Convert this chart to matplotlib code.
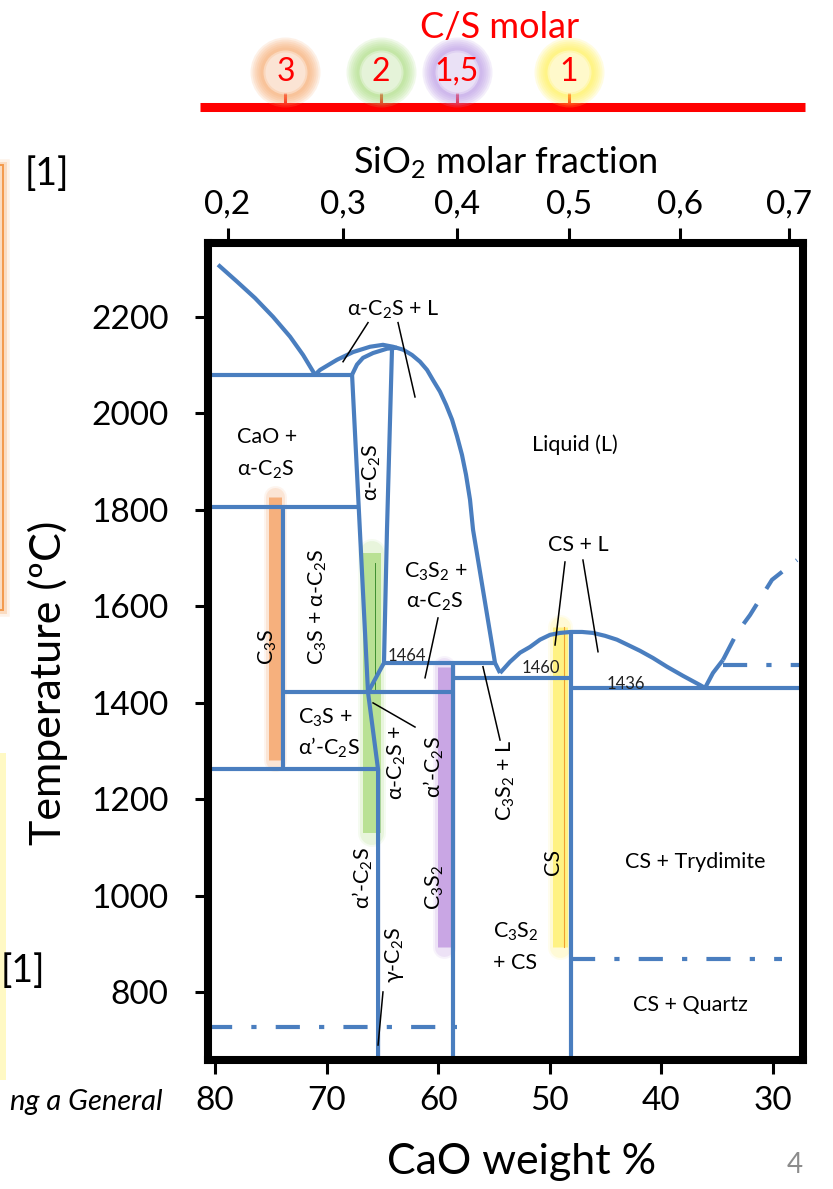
import numpy as np
import matplotlib
matplotlib.use("Agg")
import matplotlib.pyplot as plt
from matplotlib.patches import Rectangle

plt.rcParams['font.family'] = ['Lato', 'DejaVu Sans']
plt.rcParams['mathtext.fontset'] = 'custom'
plt.rcParams['mathtext.rm'] = 'Lato'
plt.rcParams['mathtext.it'] = 'Lato:italic'
plt.rcParams['mathtext.bf'] = 'Lato:bold'

BLUE = '#4a7ebf'
M_CAO = 56.08
M_SIO2 = 60.08

# axis ranges: CaO weight % and temperature (C)
x_range = (80.63, 27.31)
t_range = (660, 2353)
x_ticks = [80, 70, 60, 50, 40, 30]
t_ticks = [800, 1000, 1200, 1400, 1600, 1800, 2000, 2200]
sio2_ticks = [0.2, 0.3, 0.4, 0.5, 0.6, 0.7]
sio2_labels = ['0,2', '0,3', '0,4', '0,5', '0,6', '0,7']
cs_ratio = [3, 2, 1.5, 1]
cs_labels = ['3', '2', '1,5', '1']
cs_colors = ['#f7a566', '#a6dc7a', '#b996e6', '#fff04a']

# liquidus curves
cao_liq_w = [79.73, 78.03, 76.42, 74.8, 73.28, 72.11, 71.04]
cao_liq_t = [2308, 2273, 2239, 2200, 2159, 2121, 2080]
c2s_liq_w = [71.04, 70.59, 69.07, 67.63, 66.11, 64.95, 64.05, 63.15, 62.35, 61.63, 61.0,
             60.47, 59.84, 59.3, 58.76, 58.32, 57.87, 57.51, 57.15, 56.88, 54.91, 54.46]
c2s_liq_t = [2080, 2090, 2111, 2127, 2138, 2142, 2138, 2132, 2121, 2107, 2090,
             2069, 2045, 2018, 1987, 1953, 1914, 1873, 1821, 1759, 1483, 1462]
c2s_sol_w = [67.72, 67.28, 66.74, 65.84, 64.59, 63.69]
c2s_sol_t = [2080, 2101, 2115, 2125, 2134, 2136]
cs_liq_w = [54.46, 53.57, 52.67, 51.77, 50.88, 49.98, 49.09, 48.1, 47.11, 46.13, 45.05,
            43.98, 42.99, 41.92, 40.75, 39.5, 38.06, 36.54, 36.09]
cs_liq_t = [1462, 1485, 1504, 1516, 1531, 1541, 1545, 1547, 1547, 1545, 1539,
            1531, 1520, 1508, 1493, 1475, 1456, 1437, 1431]
trid_liq_w = [36.09, 35.38, 34.48]
trid_liq_t = [1431, 1462, 1489]
trid_dash_w = [34.48, 33.23, 32.06, 30.09, 27.85]
trid_dash_t = [1489, 1545, 1582, 1655, 1696]

# alpha-C2S field boundaries
a_left_w = [67.72, 66.29]
a_left_t = [2080, 1422]
a_right_w = [64.14, 64.59, 64.86, 66.29]
a_right_t = [2135, 1759, 1483, 1422]
c2s_low_w = [66.29, 65.39, 65.39]
c2s_low_t = [1422, 1262, t_range[0]]

# isotherms: temperature, from-x, to-x
iso_t = [2080, 1806, 1422, 1262, 1422, 1483, 1452, 1431]
iso_w0 = [x_range[0], x_range[0], 73.91, x_range[0], 66.29, 64.86, 58.67, 48.1]
iso_w1 = [67.72, 67.13, 66.29, 65.39, 58.67, 54.91, 48.1, x_range[1]]

# compound lines: x, top temperature, bottom
comp_w = [73.91, 58.67, 48.1]
comp_top = [1806, 1483, 1547]
comp_bot = [1262, t_range[0], t_range[0]]

# dash-dot transitions
dd_t = [729, 870, 1479]
dd_w0 = [x_range[0], 48.1, 34.48]
dd_w1 = [58.32, 29.19, x_range[1]]

# highlight bands: x, top, bottom, colour, width(px)
band_w = [74.62, 65.93, 59.52, 49.13]
band_top = [1827, 1711, 1475, 1558]
band_bot = [1282, 1131, 894, 894]
band_col = ['#f6ab74', '#b4df8c', '#c5a0e2', '#fff27a']
band_px = [13, 18, 13, 15]

# leader lines
lead_w0 = [66.29, 63.6, 60.02, 65.84, 55.99, 48.64, 47.03, 64.95]
lead_t0 = [2188, 2188, 1576, 1400, 1475, 1692, 1696, 801]
lead_w1 = [68.53, 62.08, 61.18, 62.08, 54.46, 49.53, 45.68, 65.39]
lead_t1 = [2107, 2034, 1452, 1350, 1323, 1520, 1506, 691]

C2 = r'C$_\mathregular{2}$S'
C3S = r'C$_\mathregular{3}$S'
C3S2 = r'C$_\mathregular{3}$S$_\mathregular{2}$'

# region labels: x, T, text, rotation, ha
lab_w = [64.05, 78.03, 78.03, 65.93, 47.74, 75.25, 70.77, 72.56, 72.56, 60.2, 60.3,
         63.69, 60.38, 66.74, 63.96, 60.29, 53.92, 47.47, 49.71, 37.0, 55.09, 55.09, 37.44]
lab_t = [2214, 1951, 1883, 1877, 1935, 1516, 1599, 1369, 1307, 1671, 1609,
         1276, 1267, 1037, 878, 1019, 1240, 1727, 1070, 1070, 925, 861, 774]
lab_s = ['α-' + C2 + ' + L', 'CaO +', 'α-' + C2, 'α-' + C2, 'Liquid (L)', C3S,
         C3S + ' + α-' + C2, C3S + ' +', 'α’-' + C2, C3S2 + ' +', 'α-' + C2,
         'α-' + C2 + ' +', 'α’-' + C2, 'α’-' + C2, 'γ-' + C2, C3S2, C3S2 + ' + L',
         'CS + L', 'CS', 'CS + Trydimite', C3S2, '+ CS', 'CS + Quartz']
lab_rot = [0, 0, 0, 90, 0, 90, 90, 0, 0, 0, 0, 90, 90, 90, 90, 90, 90, 0, 90, 0, 0, 0, 0]
lab_ha = ['center', 'left', 'left', 'center', 'center', 'center', 'center', 'left', 'left',
          'center', 'center', 'center', 'center', 'center', 'center', 'center', 'center',
          'center', 'center', 'center', 'left', 'left', 'center']

# small temperature notes
note_w = [62.8, 50.79, 43.17]
note_t = [1497, 1473, 1439]
note_s = ['1464', '1460', '1436']


def wt_to_xs(w):
    w = np.asarray(w, dtype=float)
    with np.errstate(divide='ignore', invalid='ignore'):
        ns = (100 - w) / M_SIO2
        return ns / (ns + w / M_CAO)


def xs_to_wt(x):
    x = np.asarray(x, dtype=float)
    with np.errstate(divide='ignore', invalid='ignore'):
        return 100 * (1 - x) * M_CAO / ((1 - x) * M_CAO + x * M_SIO2)


fig = plt.figure(figsize=(8.33, 11.89), dpi=100)
W, H = 833, 1189
ax = fig.add_axes([208 / W, 1 - 1060 / H, 595 / W, 817 / H])
ax.set_xlim(x_range)
ax.set_ylim(t_range)

lw = 3.0
kw = dict(color=BLUE, lw=lw, solid_capstyle='butt', solid_joinstyle='round', zorder=2)

# highlight bands first
for w, t0, t1, c, px in zip(band_w, band_top, band_bot, band_col, band_px):
    for extra, a in [(10, 0.12), (6, 0.2)]:
        ax.plot([w, w], [t0, t1], color=c, lw=(px + extra) * 0.72, alpha=a,
                solid_capstyle='round', zorder=1)
    ax.plot([w, w], [t0, t1], color=c, lw=px * 0.72, alpha=0.9,
            solid_capstyle='butt', zorder=1)
ax.plot([65.66, 65.66], [1690, 1421], color='#3f8f2f', lw=0.7, zorder=1.5)
ax.plot([48.73, 48.73], [1558, 894], color='#f0a030', lw=0.8, zorder=1.5)

for ws, ts in [(cao_liq_w, cao_liq_t), (c2s_liq_w, c2s_liq_t), (c2s_sol_w, c2s_sol_t),
               (cs_liq_w, cs_liq_t), (trid_liq_w, trid_liq_t), (a_left_w, a_left_t),
               (a_right_w, a_right_t), (c2s_low_w, c2s_low_t)]:
    ax.plot(ws, ts, **kw)
ax.plot(trid_dash_w, trid_dash_t, color=BLUE, lw=lw, ls=(0, (5.7, 4.3)), zorder=2)

for t, w0, w1 in zip(iso_t, iso_w0, iso_w1):
    ax.plot([w0, w1], [t, t], **kw)
for w, t0, t1 in zip(comp_w, comp_top, comp_bot):
    ax.plot([w, w], [t0, t1], **kw)
for t, w0, w1 in zip(dd_t, dd_w0, dd_w1):
    ax.plot([w0, w1], [t, t], color=BLUE, lw=lw, ls=(0, (5.8, 4.6, 1.25, 4.6)), zorder=2)

for w0, t0, w1, t1 in zip(lead_w0, lead_t0, lead_w1, lead_t1):
    ax.plot([w0, w1], [t0, t1], color='black', lw=1.1, zorder=3)

for w, t, s, r, ha in zip(lab_w, lab_t, lab_s, lab_rot, lab_ha):
    ax.text(w, t, s, rotation=r, ha=ha, va='center', fontsize=15.5, zorder=4)
for w, t, s in zip(note_w, note_t, note_s):
    ax.text(w, t, s, ha='center', va='center', fontsize=12, color='#222222', zorder=4)

# frame and ticks
for sp in ax.spines.values():
    sp.set_linewidth(5.8)
    sp.set_zorder(5)
ax.set_xticks(x_ticks)
ax.set_yticks(t_ticks)
ax.tick_params(axis='y', direction='out', length=9.5, width=2.2, pad=19, labelsize=24)
ax.tick_params(axis='x', direction='out', length=10, width=2.2, pad=9, labelsize=24, top=False)

sec = ax.secondary_xaxis('top', functions=(wt_to_xs, xs_to_wt))
sec.set_xticks(sio2_ticks)
sec.set_xticklabels(sio2_labels)
sec.tick_params(direction='out', length=11, width=2.2, pad=6, labelsize=24)
sec.spines['top'].set_visible(False)

fig.text(505 / W, 1 - 163 / H, r'SiO$_\mathregular{2}$ molar fraction', ha='center', va='center', fontsize=26)
fig.text(522 / W, 1 - 1162 / H, 'CaO weight %', ha='center', va='center', fontsize=31)
fig.text(48 / W, 1 - 683 / H, 'Temperature (ºC)', ha='center', va='center', rotation=90, fontsize=31)

# C/S molar scale
rax = fig.add_axes([208 / W, 1 - 132 / H, 595 / W, 50 / H])
rax.set_xlim(x_range)
rax.set_ylim(0, 1)
rax.axis('off')
cs_w = xs_to_wt(1 / (1 + np.array(cs_ratio, dtype=float)))
rax.plot([-0.013, 1.003], [0.5, 0.5], color='#ff0000', lw=6.5, transform=rax.transAxes,
         clip_on=False, solid_capstyle='butt')
rax.vlines(cs_w, 0.5, 0.78, color='#ff0000', lw=2.2)
for w, s, c in zip(cs_w, cs_labels, cs_colors):
    for d in [70, 66, 62, 58, 54, 50]:
        rax.scatter([w], [1.2], s=(d * 0.72) ** 2, color=c, alpha=0.16, lw=0, clip_on=False, zorder=2)
    for d in [44, 40]:
        rax.scatter([w], [1.2], s=(d * 0.72) ** 2, color='white', alpha=0.35, lw=0, clip_on=False, zorder=3)
    rax.text(w, 1.2, s, ha='center', va='center', fontsize=23, color='#ff0000', zorder=4)
fig.text(500 / W, 1 - 28 / H, 'C/S molar', ha='center', va='center', fontsize=26, color='#ff0000')

# slide leftovers on the left edge
for lwid, a in [(9, 0.12), (5, 0.25), (1.4, 1.0)]:
    fig.add_artist(Rectangle((-40 / W, 1 - 610 / H), 43 / W, 445 / H, transform=fig.transFigure,
                             fill=False, edgecolor='#f39a4c', lw=lwid, alpha=a))
fig.add_artist(Rectangle((0, 1 - 1080 / H), 6 / W, 327 / H, transform=fig.transFigure,
                         facecolor='#fff9c4', edgecolor='none'))
fig.text(47 / W, 1 - 174 / H, '[1]', ha='center', va='center', fontsize=27)
fig.text(23 / W, 1 - 971 / H, '[1]', ha='center', va='center', fontsize=27)
fig.text(163 / W, 1 - 1102 / H, 'ng a General', ha='right', va='center', fontsize=21, style='italic')
fig.text(795 / W, 1 - 1165 / H, '4', ha='center', va='center', fontsize=20, color='#8c8c8c')

fig.savefig('out.png', dpi=100)
